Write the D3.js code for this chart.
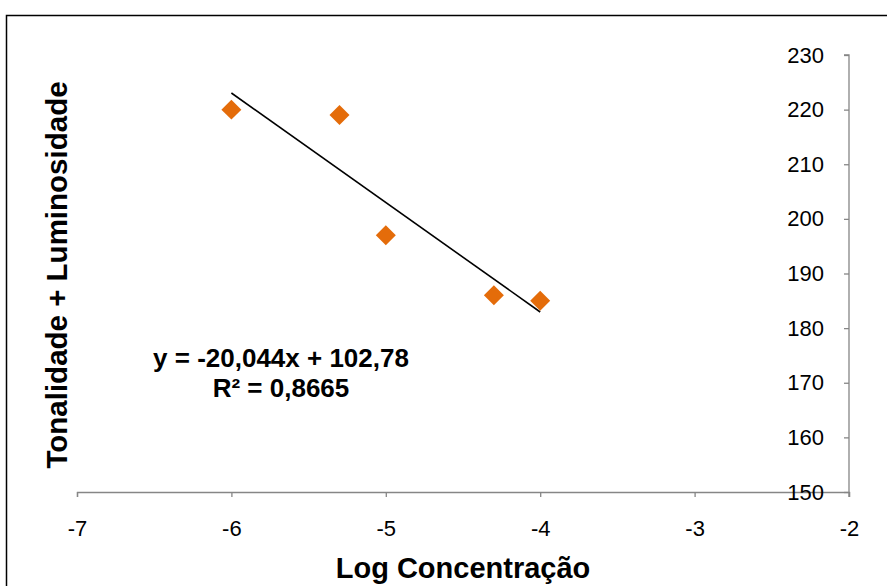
<!DOCTYPE html>
<html>
<head>
<meta charset="utf-8">
<script src="https://cdn.jsdelivr.net/npm/d3@7"></script>
<style>
  html, body { margin: 0; padding: 0; background: #fff; }
  svg { display: block; }
</style>
</head>
<body>
<div id="chart"></div>
<script>
// Log concentration vs. hue + luminosity, with linear trendline
const logConc = [-6, -5.3, -5, -4.3, -4];
const tonLum = [220, 219, 197, 186, 185];
const xTicks = [-7, -6, -5, -4, -3, -2];
const yTicks = [150, 160, 170, 180, 190, 200, 210, 220, 230];
const slope = -20.044;
const intercept = 102.78;
const rSquared = "0,8665";

const W = 887, H = 586;
const svg = d3.select("#chart").append("svg")
  .attr("width", W).attr("height", H);

// chart frame (runs past the page edge on right and bottom)
svg.append("rect")
  .attr("x", 6.5).attr("y", 15.5)
  .attr("width", W + 20).attr("height", H + 20)
  .attr("fill", "#fff").attr("stroke", "#000").attr("stroke-width", 1.5);

const x = d3.scaleLinear().domain([-7, -2]).range([77, 849]);
const y = d3.scaleLinear().domain([150, 230]).range([492, 55]);

const axisColor = "#868686";
const tickFont = "'Liberation Sans', Arial, sans-serif";

// x axis along y = 150
const gx = svg.append("g").attr("transform", `translate(0,${y(150)})`)
  .call(d3.axisBottom(x).tickValues(xTicks).tickSize(5).tickPadding(23)
    .tickFormat(d => d3.format("d")(d).replace("−", "-")));
gx.select(".domain").attr("stroke", axisColor).attr("stroke-width", 1.3);
gx.selectAll(".tick line").attr("stroke", axisColor).attr("stroke-width", 1.3);
gx.selectAll(".tick text").attr("fill", "#000")
  .style("font-family", tickFont).style("font-size", "22px");

// y axis along x = -2, labels on the left
const gy = svg.append("g").attr("transform", `translate(${x(-2)},0)`)
  .call(d3.axisLeft(y).tickValues(yTicks).tickSize(5).tickPadding(20)
    .tickFormat(d3.format("d")));
gy.select(".domain").attr("stroke", axisColor).attr("stroke-width", 1.3)
  .attr("d", `M-5,${y(230)}H0V${y(150) + 5}`);
gy.selectAll(".tick line").attr("stroke", axisColor).attr("stroke-width", 1.3);
gy.selectAll(".tick text").attr("fill", "#000")
  .style("font-family", tickFont).style("font-size", "22px");

// linear trendline over the data range
const xmin = d3.min(logConc), xmax = d3.max(logConc);
svg.append("line")
  .attr("x1", x(xmin)).attr("y1", y(slope * xmin + intercept))
  .attr("x2", x(xmax)).attr("y2", y(slope * xmax + intercept))
  .attr("stroke", "#000").attr("stroke-width", 1.6);

// diamond markers
const diamond = d3.symbol().type(d3.symbolSquare).size(200);
svg.append("g").selectAll("path")
  .data(logConc.map((v, i) => [v, tonLum[i]]))
  .join("path")
  .attr("d", diamond)
  .attr("transform", d => `translate(${x(d[0])},${y(d[1])}) rotate(45)`)
  .attr("fill", "#E46C0A");

// equation label
const boldFont = "'Liberation Sans', Arial, sans-serif";
const eq = svg.append("g").style("font-family", boldFont)
  .style("font-weight", "bold").style("font-size", "26px")
  .attr("text-anchor", "middle").attr("fill", "#000");
eq.append("text").attr("x", 281).attr("y", 367)
  .text(`y = ${String(slope).replace(".", ",")}x + ${String(intercept).replace(".", ",")}`);
eq.append("text").attr("x", 281).attr("y", 397)
  .text(`R² = ${rSquared}`);

// axis titles
svg.append("text")
  .attr("x", 463).attr("y", 578)
  .attr("text-anchor", "middle")
  .style("font-family", boldFont).style("font-weight", "bold").style("font-size", "29px")
  .text("Log Concentração");

svg.append("text")
  .attr("transform", `translate(67,275) rotate(-90)`)
  .attr("text-anchor", "middle")
  .style("font-family", boldFont).style("font-weight", "bold").style("font-size", "29.5px")
  .text("Tonalidade + Luminosidade");
</script>
</body>
</html>
